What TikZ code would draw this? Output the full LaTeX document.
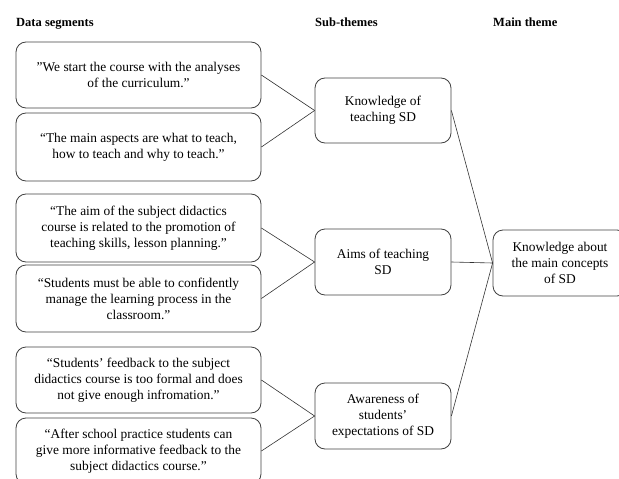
\documentclass[tikz,border=0pt]{standalone}
\usepackage{fontspec}
\setmainfont{Liberation Serif}
\begin{document}
\begin{tikzpicture}[x=1pt,y=-1pt,
  box/.style={draw=black!75, line width=0.8pt, rounded corners=10pt, align=center,
    font=\fontsize{13.4}{16}\selectfont, inner sep=0pt},
  databox/.style={box, minimum width=245pt},
  subbox/.style={box, minimum width=136pt},
  head/.style={font=\fontsize{12.5}{14}\selectfont\bfseries, anchor=base west, inner sep=0pt},
  link/.style={draw=black!80, line width=0.6pt}]
\clip (0,0) rectangle (619,479);
\node[head] (h1) at (16,27) {Data segments};
\node[head] (h2) at (315,27) {Sub-themes};
\node[head] (h3) at (493,27) {Main theme};

\node[databox, minimum height=66pt] (d1) at (138.5,75) {"We start the course with the analyses\\of the curriculum."};
\node[databox, minimum height=68pt] (d2) at (138.5,147) {“The main aspects are what to teach,\\how to teach and why to teach.”};
\node[databox, minimum height=68pt] (d3) at (138.5,228) {“The aim of the subject didactics\\course is related to the promotion of\\teaching skills, lesson planning.”};
\node[databox, minimum height=67pt] (d4) at (138.5,298.5) {“Students must be able to confidently\\manage the learning process in the\\classroom.”};
\node[databox, minimum height=66pt] (d5) at (138.5,380) {“Students’ feedback to the subject\\didactics course is too formal and does\\not give\ enough infromation.”};
\node[databox, minimum height=66pt] (d6) at (138.5,451) {“After school practice students can\\give more informative feedback\ to the\\subject didactics course.”};

\node[subbox, minimum height=65pt] (s1) at (383,110.5) {Knowledge of\\teaching SD};
\node[subbox, minimum height=66pt] (s2) at (383,262) {Aims of teaching\\SD};
\node[subbox, minimum height=66pt] (s3) at (383,416) {Awareness of\\students’\\expectations of SD};

\node[box, minimum width=134pt, minimum height=66pt] (m) at (560,263) {Knowledge about\\the main concepts\\of SD};

\draw[link] (d1.east) -- (s1.west);
\draw[link] (d2.east) -- (s1.west);
\draw[link] (d3.east) -- (s2.west);
\draw[link] (d4.east) -- (s2.west);
\draw[link] (d5.east) -- (s3.west);
\draw[link] (d6.east) -- (s3.west);
\draw[link] (s1.east) -- (m.west);
\draw[link] (s2.east) -- (m.west);
\draw[link] (s3.east) -- (m.west);
\end{tikzpicture}
\end{document}
